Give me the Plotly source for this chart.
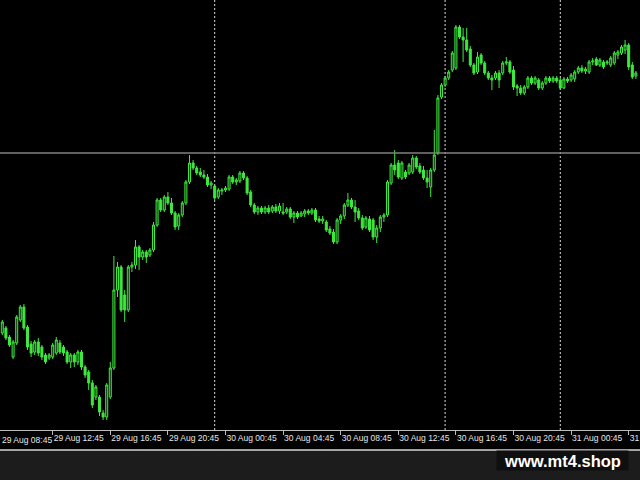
import pandas as pd
import plotly.graph_objects as go

# 15-minute candles, 29 Aug 09:15 -> 31 Aug 05:15
times = pd.date_range("2023-08-29 09:15", periods=177, freq="15min")

open_ = [
    1.1097,1.1102,1.1093,1.1073,1.1087,1.1110,1.1123,1.1103,1.1086,1.1078,
    1.1088,1.1083,1.1075,1.1072,1.1073,1.1077,1.1087,1.1083,1.1078,1.1068,
    1.1075,1.1068,1.1078,1.1063,1.1058,1.1047,1.1033,1.1033,1.1017,1.1013,
    1.1033,1.1062,1.1140,1.1163,1.1135,1.1120,1.1163,1.1165,1.1183,1.1173,
    1.1178,1.1175,1.1180,1.1205,1.1230,1.1220,1.1233,1.1227,1.1217,1.1204,
    1.1215,1.1227,1.1248,1.1267,1.1262,1.1258,1.1255,1.1253,1.1245,1.1244,
    1.1233,1.1239,1.1240,1.1241,1.1253,1.1248,1.1249,1.1257,1.1252,1.1238,
    1.1225,1.1218,1.1222,1.1218,1.1222,1.1219,1.1223,1.1219,1.1218,1.1218,
    1.1221,1.1213,1.1217,1.1214,1.1216,1.1219,1.1217,1.1220,1.1211,1.1209,
    1.1208,1.1201,1.1198,1.1188,1.1210,1.1214,1.1225,1.1230,1.1223,1.1219,
    1.1212,1.1203,1.1211,1.1210,1.1193,1.1202,1.1213,1.1215,1.1247,1.1265,
    1.1267,1.1252,1.1258,1.1257,1.1258,1.1272,1.1264,1.1260,1.1252,1.1243,
    1.1260,1.1277,1.1333,1.1345,1.1352,1.1360,1.1362,1.1403,1.1393,1.1390,
    1.1381,1.1365,1.1358,1.1375,1.1367,1.1357,1.1352,1.1352,1.1357,1.1357,
    1.1367,1.1368,1.1360,1.1344,1.1342,1.1337,1.1343,1.1352,1.1347,1.1350,
    1.1342,1.1347,1.1352,1.1349,1.1352,1.1350,1.1342,1.1351,1.1350,1.1351,
    1.1358,1.1362,1.1359,1.1358,1.1368,1.1371,1.1365,1.1368,1.1367,1.1365,
    1.1367,1.1375,1.1377,1.1380,1.1385,1.1365,1.1354,
]
close = [
    1.1108,1.1092,1.1085,1.1088,1.1113,1.1123,1.1102,1.1083,1.1077,1.1088,
    1.1077,1.1073,1.1068,1.1075,1.1085,1.1090,1.1078,1.1077,1.1068,1.1075,
    1.1068,1.1078,1.1063,1.1055,1.1047,1.1025,1.1043,1.1018,1.1013,1.1045,
    1.1062,1.1140,1.1163,1.1120,1.1120,1.1163,1.1165,1.1183,1.1173,1.1178,
    1.1173,1.1180,1.1205,1.1230,1.1220,1.1233,1.1227,1.1217,1.1203,1.1215,
    1.1227,1.1248,1.1267,1.1262,1.1257,1.1255,1.1253,1.1245,1.1247,1.1232,
    1.1240,1.1240,1.1242,1.1253,1.1248,1.1250,1.1257,1.1252,1.1237,1.1225,
    1.1218,1.1222,1.1218,1.1222,1.1218,1.1223,1.1219,1.1224,1.1217,1.1221,
    1.1213,1.1217,1.1213,1.1217,1.1219,1.1217,1.1220,1.1210,1.1209,1.1211,
    1.1200,1.1197,1.1188,1.1210,1.1214,1.1225,1.1230,1.1223,1.1218,1.1212,
    1.1202,1.1212,1.1200,1.1193,1.1202,1.1213,1.1215,1.1248,1.1265,1.1260,
    1.1253,1.1267,1.1253,1.1265,1.1272,1.1263,1.1258,1.1252,1.1248,1.1260,
    1.1275,1.1332,1.1345,1.1352,1.1358,1.1377,1.1403,1.1393,1.1390,1.1380,
    1.1365,1.1357,1.1373,1.1367,1.1357,1.1352,1.1350,1.1357,1.1350,1.1367,
    1.1368,1.1358,1.1343,1.1342,1.1337,1.1343,1.1352,1.1347,1.1352,1.1342,
    1.1347,1.1352,1.1349,1.1352,1.1349,1.1342,1.1351,1.1349,1.1355,1.1358,
    1.1362,1.1359,1.1361,1.1368,1.1369,1.1365,1.1370,1.1363,1.1368,1.1372,
    1.1377,1.1378,1.1383,1.1385,1.1363,1.1353,1.1357,
]
high = [
    1.1110,1.1104,1.1095,1.1090,1.1115,1.1125,1.1126,1.1105,1.1089,1.1090,
    1.1092,1.1085,1.1077,1.1077,1.1087,1.1093,1.1090,1.1085,1.1080,1.1077,
    1.1077,1.1080,1.1080,1.1065,1.1060,1.1050,1.1045,1.1035,1.1020,1.1047,
    1.1068,1.1174,1.1168,1.1165,1.1140,1.1165,1.1168,1.1190,1.1185,1.1180,
    1.1180,1.1182,1.1208,1.1232,1.1232,1.1235,1.1238,1.1232,1.1219,1.1217,
    1.1229,1.1250,1.1275,1.1270,1.1264,1.1262,1.1260,1.1256,1.1249,1.1245,
    1.1242,1.1242,1.1244,1.1255,1.1255,1.1252,1.1259,1.1259,1.1254,1.1240,
    1.1227,1.1224,1.1224,1.1224,1.1225,1.1225,1.1226,1.1227,1.1227,1.1223,
    1.1223,1.1219,1.1219,1.1219,1.1221,1.1221,1.1222,1.1222,1.1214,1.1214,
    1.1210,1.1204,1.1201,1.1212,1.1216,1.1227,1.1237,1.1232,1.1230,1.1222,
    1.1215,1.1214,1.1214,1.1212,1.1205,1.1215,1.1217,1.1250,1.1267,1.1280,
    1.1270,1.1269,1.1260,1.1267,1.1275,1.1274,1.1267,1.1264,1.1260,1.1262,
    1.1300,1.1335,1.1347,1.1354,1.1360,1.1379,1.1405,1.1405,1.1402,1.1402,
    1.1384,1.1367,1.1378,1.1377,1.1369,1.1359,1.1355,1.1359,1.1360,1.1369,
    1.1373,1.1370,1.1364,1.1346,1.1345,1.1345,1.1354,1.1354,1.1354,1.1352,
    1.1349,1.1354,1.1354,1.1354,1.1354,1.1352,1.1353,1.1353,1.1357,1.1360,
    1.1364,1.1365,1.1363,1.1370,1.1372,1.1373,1.1372,1.1370,1.1370,1.1374,
    1.1379,1.1380,1.1385,1.1390,1.1387,1.1368,1.1359,
]
low = [
    1.1095,1.1090,1.1083,1.1071,1.1085,1.1108,1.1100,1.1080,1.1073,1.1075,
    1.1074,1.1070,1.1066,1.1070,1.1071,1.1075,1.1076,1.1074,1.1066,1.1062,
    1.1063,1.1065,1.1060,1.1052,1.1040,1.1022,1.1030,1.1014,1.1010,1.1010,
    1.1031,1.1060,1.1133,1.1118,1.1108,1.1118,1.1158,1.1161,1.1160,1.1170,
    1.1167,1.1173,1.1178,1.1203,1.1218,1.1218,1.1225,1.1215,1.1200,1.1200,
    1.1213,1.1225,1.1246,1.1260,1.1255,1.1253,1.1251,1.1243,1.1241,1.1230,
    1.1231,1.1235,1.1238,1.1239,1.1246,1.1245,1.1247,1.1250,1.1235,1.1223,
    1.1216,1.1215,1.1216,1.1216,1.1216,1.1217,1.1217,1.1216,1.1215,1.1216,
    1.1211,1.1207,1.1211,1.1213,1.1213,1.1215,1.1215,1.1208,1.1207,1.1206,
    1.1198,1.1195,1.1186,1.1186,1.1206,1.1211,1.1223,1.1221,1.1208,1.1210,
    1.1200,1.1201,1.1198,1.1190,1.1187,1.1198,1.1208,1.1213,1.1245,1.1255,
    1.1251,1.1250,1.1251,1.1255,1.1256,1.1261,1.1256,1.1250,1.1242,1.1233,
    1.1258,1.1275,1.1331,1.1343,1.1350,1.1358,1.1360,1.1391,1.1368,1.1378,
    1.1363,1.1355,1.1356,1.1365,1.1355,1.1350,1.1340,1.1350,1.1342,1.1355,
    1.1365,1.1356,1.1340,1.1334,1.1335,1.1335,1.1341,1.1345,1.1345,1.1340,
    1.1340,1.1345,1.1347,1.1347,1.1347,1.1340,1.1341,1.1347,1.1348,1.1348,
    1.1356,1.1357,1.1356,1.1356,1.1365,1.1364,1.1363,1.1361,1.1365,1.1363,
    1.1365,1.1371,1.1375,1.1376,1.1360,1.1351,1.1351,
]

tick_times = [
    "2023-08-29 12:45", "2023-08-29 16:45", "2023-08-29 20:45",
    "2023-08-30 00:45", "2023-08-30 04:45", "2023-08-30 08:45",
    "2023-08-30 12:45", "2023-08-30 16:45", "2023-08-30 20:45",
    "2023-08-31 00:45", "2023-08-31 04:45",
]
tick_labels = [
    "29 Aug 12:45", "29 Aug 16:45", "29 Aug 20:45",
    "30 Aug 00:45", "30 Aug 04:45", "30 Aug 08:45",
    "30 Aug 12:45", "30 Aug 16:45", "30 Aug 20:45",
    "31 Aug 00:45", "31 Aug 04:45",
]
first_label = "29 Aug 08:45"

separators = ["2023-08-30 00:00", "2023-08-30 16:00", "2023-08-31 00:00"]
hline_price = 1.1277

GREEN = "#3ee83e"
FONT = "Liberation Sans, Arial, sans-serif"

fig = go.Figure()
fig.add_trace(go.Candlestick(
    x=times, open=open_, high=high, low=low, close=close,
    increasing=dict(line=dict(color=GREEN, width=1), fillcolor="#0c300c"),
    decreasing=dict(line=dict(color=GREEN, width=1), fillcolor=GREEN),
    whiskerwidth=0, showlegend=False, hoverinfo="skip",
))

shapes = []
for s in separators:
    shapes.append(dict(type="line", xref="x", yref="y domain", x0=s, x1=s, y0=0, y1=1,
                       line=dict(color="#d8d8d8", width=1, dash="2px,2px"), layer="below"))
shapes.append(dict(type="line", xref="x domain", yref="y", x0=0, x1=1,
                   y0=hline_price, y1=hline_price,
                   line=dict(color="#808080", width=1.5)))
# bottom status band and its top border
shapes.append(dict(type="rect", xref="paper", yref="paper", x0=0, x1=1, y0=0, y1=30/480,
                   fillcolor="#1c1c1c", line=dict(width=0), layer="below"))
shapes.append(dict(type="line", xref="paper", yref="paper", x0=0, x1=1,
                   y0=30/480, y1=30/480, line=dict(color="#d6d6d6", width=1.5)))

fig.update_layout(
    template="none",
    width=640, height=480,
    margin=dict(l=0, r=0, t=0, b=0, autoexpand=False),
    paper_bgcolor="black", plot_bgcolor="black",
    boxgap=0.2,
    shapes=shapes,
    xaxis=dict(
        range=["2023-08-29 09:05:24", "2023-08-31 05:32:06"],
        rangeslider=dict(visible=False),
        automargin=False,
        showgrid=False, zeroline=False,
        tickmode="array", tickvals=tick_times, ticktext=tick_labels,
        tickangle=0,
        ticks="outside", ticklen=4, tickcolor="#bdbdbd", tickwidth=1,
        showline=True, linecolor="#bdbdbd", linewidth=1,
        tickfont=dict(family=FONT, size=8.5, color="#e6e6e6"),
        ticklabelposition="outside right", ticklabeloverflow="allow",
    ),
    yaxis=dict(domain=[50/480, 1], range=[1.1000, 1.1430], visible=False,
               automargin=False),
    annotations=[
        dict(text=first_label, xref="paper", yref="paper", x=0, y=40/480,
             xanchor="left", yanchor="middle", showarrow=False,
             font=dict(family=FONT, size=8.5, color="#e6e6e6")),
        dict(text="<b>www.mt4.shop</b>", xref="paper", yref="paper",
             x=562.5/640, y=19.5/480, xanchor="center", yanchor="middle",
             showarrow=False, width=131, height=19, bgcolor="#0f0f0f", borderpad=0,
             font=dict(family=FONT, size=16.5, color="#ffffff")),
    ],
)

fig.write_html("out.html", config={"displayModeBar": False},
               post_script="document.body.style.margin='0';document.body.style.overflow='hidden';")
